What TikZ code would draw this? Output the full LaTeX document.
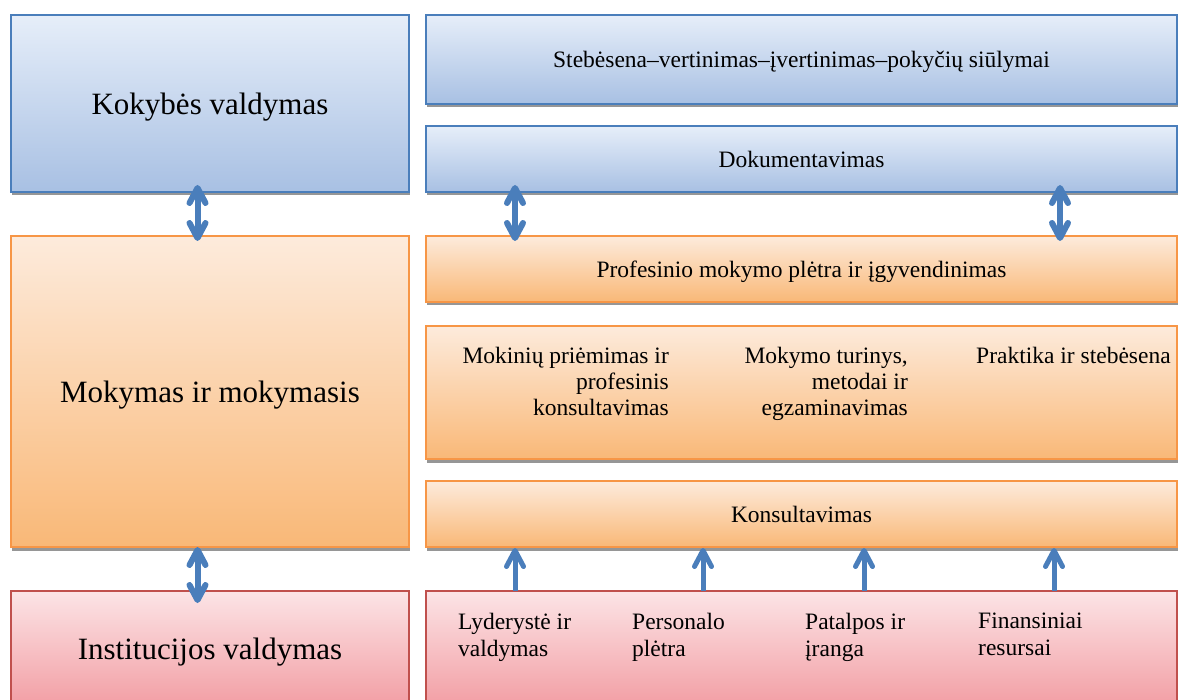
\documentclass[tikz,border=0pt]{standalone}
\usepackage{fontspec}
\setmainfont{Liberation Serif}
\usetikzlibrary{arrows.meta,shadows}
\definecolor{bblue}{HTML}{4A7EBB}
\definecolor{btop}{HTML}{E6EEF9}
\definecolor{bbot}{HTML}{A8C0E3}
\definecolor{oline}{HTML}{F79646}
\definecolor{otop}{HTML}{FDEBDC}
\definecolor{obot}{HTML}{F9B877}
\definecolor{rline}{HTML}{C0504D}
\definecolor{rtop}{HTML}{FCE4E6}
\definecolor{rbot}{HTML}{F29EA4}
\definecolor{arrblue}{HTML}{4A7EBB}
\begin{document}
\begin{tikzpicture}[x=1pt,y=-1pt,
  box/.style={draw, line width=1.2pt, inner sep=0pt, outer sep=0pt, anchor=north west, text depth=0pt,
    drop shadow={shadow xshift=1pt, shadow yshift=-3.5pt, fill=black!55, opacity=0.75}},
  bluebox/.style={box, draw=bblue, top color=btop, bottom color=bbot},
  orangebox/.style={box, draw=oline, top color=otop, bottom color=obot},
  redbox/.style={box, draw=rline, top color=rtop, bottom color=rbot},
  big/.style={font=\fontsize{31}{36}\selectfont},
  small/.style={font=\fontsize{23.5}{26}\selectfont},
  smallr/.style={font=\fontsize{23.5}{27}\selectfont},
  txt/.style={inner sep=0pt},
  dblarrow/.style={draw=arrblue, line width=6pt,
    {Straight Barb[round,length=15pt,width=16pt]}-{Straight Barb[round,length=15pt,width=16pt]}},
  uparrow/.style={draw=arrblue, line width=5pt, -{Straight Barb[round,length=16pt,width=17pt]}}
]
\useasboundingbox (0,0) rectangle (1178,700);
\clip (0,0) rectangle (1178,700);

% left column
\node[bluebox, minimum width=398pt, minimum height=177pt, big] (kv) at (11,15) {Kokybės valdymas};
\node[orangebox, minimum width=398pt, minimum height=311pt, big] (mm) at (11,236) {Mokymas ir mokymasis};
\node[redbox, minimum width=398pt, minimum height=115pt, big] (iv) at (11,591) {Institucijos valdymas};

% right column
\node[bluebox, minimum width=751pt, minimum height=89pt, small] (sv) at (426,15) {Stebėsena–vertinimas–įvertinimas–pokyčių siūlymai};
\node[bluebox, minimum width=751pt, minimum height=66pt, small] (dok) at (426,126) {Dokumentavimas};
\node[orangebox, minimum width=751pt, minimum height=66pt, small] (pm) at (426,236) {Profesinio mokymo plėtra ir įgyvendinimas};
\node[orangebox, minimum width=751pt, minimum height=133pt] (mk) at (426,326) {};
\node[orangebox, minimum width=751pt, minimum height=66pt, small] (kons) at (426,481) {Konsultavimas};
\node[redbox, minimum width=751pt, minimum height=115pt] (res) at (426,591) {};

% texts in the middle orange box
\node[txt, small, align=right, anchor=north east] (t1) at (669,347) {Mokinių priėmimas ir\\profesinis\\konsultavimas};
\node[txt, small, align=right, anchor=north east] (t2) at (908,347) {Mokymo turinys,\\metodai ir\\egzaminavimas};
\node[txt, small, align=left, anchor=north west] (t3) at (976,347) {Praktika ir stebėsena};

% texts in the red box
\node[txt, smallr, align=left, anchor=north west] (r1) at (458,613) {Lyderystė ir\\valdymas};
\node[txt, smallr, align=left, anchor=north west] (r2) at (632,613) {Personalo\\plėtra};
\node[txt, smallr, align=left, anchor=north west] (r3) at (805,613) {Patalpos ir\\įranga};
\node[txt, smallr, align=left, anchor=north west] (r4) at (978,613) {Finansiniai\\resursai};

% double arrows
\draw[dblarrow] ([xshift=-12.5pt,yshift=7pt]kv.south) -- ([xshift=-12.5pt,yshift=-5pt]mm.north);
\draw[dblarrow] ([xshift=-12.5pt,yshift=0pt]mm.south) -- ([xshift=-12.5pt,yshift=-12pt]iv.north);
\draw[dblarrow] ([xshift=-286.5pt,yshift=7pt]dok.south) -- ([xshift=-286.5pt,yshift=-5pt]pm.north);
\draw[dblarrow] ([xshift=258.5pt,yshift=7pt]dok.south) -- ([xshift=258.5pt,yshift=-5pt]pm.north);

% up arrows
\draw[uparrow] ([xshift=-286.5pt]res.north) -- ([xshift=-286.5pt,yshift=-1pt]kons.south);
\draw[uparrow] ([xshift=-98.5pt]res.north) -- ([xshift=-98.5pt,yshift=-1pt]kons.south);
\draw[uparrow] ([xshift=62.5pt]res.north) -- ([xshift=62.5pt,yshift=-1pt]kons.south);
\draw[uparrow] ([xshift=252.5pt]res.north) -- ([xshift=252.5pt,yshift=-1pt]kons.south);
\end{tikzpicture}
\end{document}
